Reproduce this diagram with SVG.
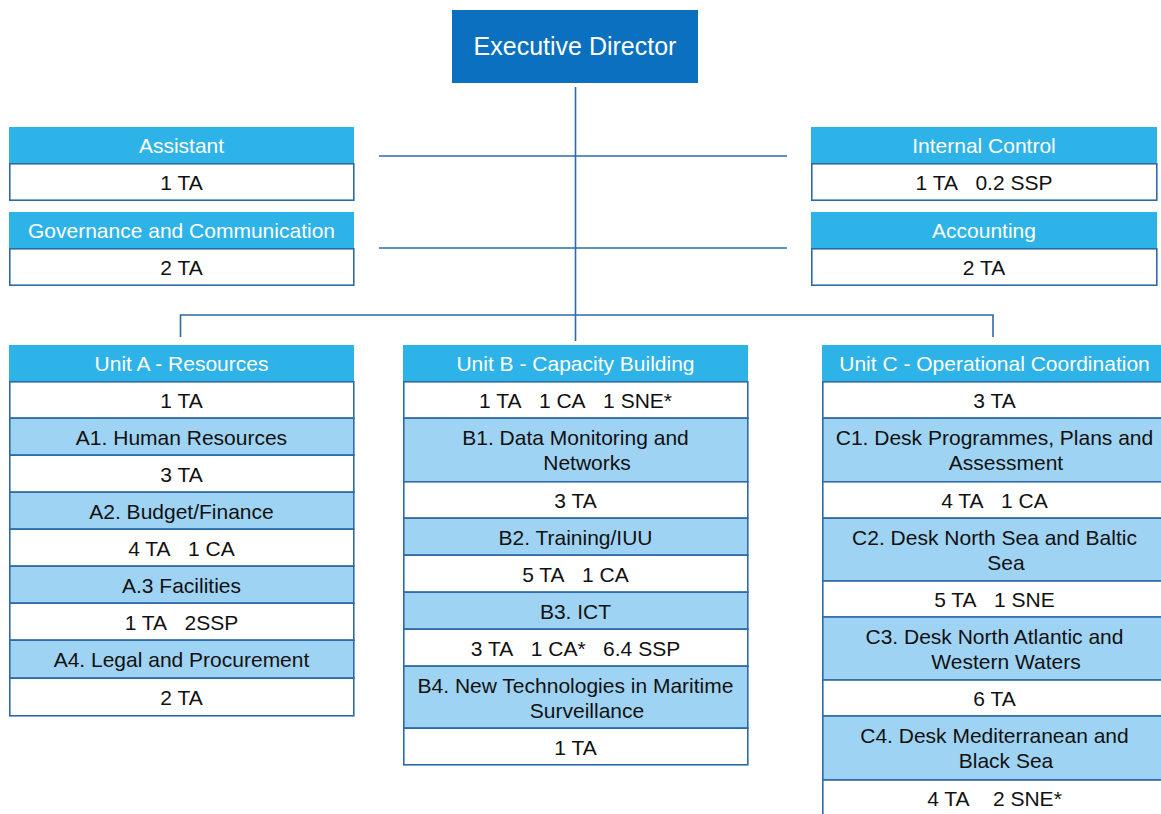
<svg xmlns="http://www.w3.org/2000/svg" width="1161" height="814" viewBox="0 0 1161 814">
<style>
text{font-family:"Liberation Sans",Arial,sans-serif;font-size:21px;text-anchor:middle;fill:#111}
.hd{fill:#2eb3e8}
.ht{fill:#fff}
.w{fill:#fff;stroke:#2e6ba6;stroke-width:1.6}
.s{fill:#9fd3f3;stroke:#2e6ba6;stroke-width:1.6}
.ln{fill:none;stroke:#2e6ba6;stroke-width:1.6}
</style>
<rect width="1161" height="814" fill="#fff"/>
<g id="connectors">
<path class="ln" d="M575.5 87V341"/>
<path class="ln" d="M379 156H787"/>
<path class="ln" d="M379 248H787"/>
<path class="ln" d="M180.5 337V315H993V337"/>
</g>
<g id="executive-director">
<rect x="452" y="10" width="246" height="73" fill="#0a70bf"/>
<text x="575" y="55" class="ht" style="font-size:25px">Executive Director</text>
</g>
<g id="assistant">
<rect class="hd" x="9" y="127" width="345" height="36"/>
<text class="ht" x="181.5" y="153">Assistant</text>
<rect class="w" x="9.8" y="163.8" width="344" height="36.4"/>
<text x="181.5" y="190">1 TA</text>
</g>
<g id="governance">
<rect class="hd" x="9" y="212" width="345" height="36"/>
<text class="ht" x="181.5" y="238">Governance and Communication</text>
<rect class="w" x="9.8" y="248.8" width="344" height="36.4"/>
<text x="181.5" y="275">2 TA</text>
</g>
<g id="internal-control">
<rect class="hd" x="811" y="127" width="346" height="36"/>
<text class="ht" x="984" y="153">Internal Control</text>
<rect class="w" x="811.8" y="163.8" width="345" height="36.4"/>
<text x="984" y="190">1 TA&#160;&#160; 0.2 SSP</text>
</g>
<g id="accounting">
<rect class="hd" x="811" y="212" width="346" height="36"/>
<text class="ht" x="984" y="238">Accounting</text>
<rect class="w" x="811.8" y="248.8" width="345" height="36.4"/>
<text x="984" y="275">2 TA</text>
</g>
<g id="unit-a">
<rect class="hd" x="9" y="345" width="345" height="37"/>
<text class="ht" x="181.5" y="371">Unit A - Resources</text>
<rect class="w" x="9.8" y="381.8" width="344" height="36.4"/>
<text x="181.5" y="408">1 TA</text>
<rect class="s" x="9.8" y="418.2" width="344" height="37"/>
<text x="181.5" y="445">A1. Human Resources</text>
<rect class="w" x="9.8" y="455.2" width="344" height="37"/>
<text x="181.5" y="482">3 TA</text>
<rect class="s" x="9.8" y="492.2" width="344" height="37"/>
<text x="181.5" y="519">A2. Budget/Finance</text>
<rect class="w" x="9.8" y="529.2" width="344" height="37"/>
<text x="181.5" y="556">4 TA&#160;&#160; 1 CA</text>
<rect class="s" x="9.8" y="566.2" width="344" height="37"/>
<text x="181.5" y="593">A.3 Facilities</text>
<rect class="w" x="9.8" y="603.2" width="344" height="37"/>
<text x="181.5" y="630">1 TA&#160;&#160; 2SSP</text>
<rect class="s" x="9.8" y="640.2" width="344" height="38"/>
<text x="181.5" y="667">A4. Legal and Procurement</text>
<rect class="w" x="9.8" y="678.2" width="344" height="37.6"/>
<text x="181.5" y="705">2 TA</text>
</g>
<g id="unit-b">
<rect class="hd" x="403" y="345" width="345" height="37"/>
<text class="ht" x="575.5" y="371">Unit B - Capacity Building</text>
<rect class="w" x="403.8" y="381.8" width="344" height="36.4"/>
<text x="575.5" y="408">1 TA&#160;&#160; 1 CA&#160;&#160; 1 SNE*</text>
<rect class="s" x="403.8" y="418.2" width="344" height="63.6"/>
<text x="575.5" y="445">B1. Data Monitoring and</text>
<text x="587" y="470">Networks</text>
<rect class="w" x="403.8" y="481.8" width="344" height="36.4"/>
<text x="575.5" y="508">3 TA</text>
<rect class="s" x="403.8" y="518.2" width="344" height="37"/>
<text x="575.5" y="545">B2. Training/IUU</text>
<rect class="w" x="403.8" y="555.2" width="344" height="37"/>
<text x="575.5" y="582">5 TA&#160;&#160; 1 CA</text>
<rect class="s" x="403.8" y="592.2" width="344" height="37"/>
<text x="575.5" y="619">B3. ICT</text>
<rect class="w" x="403.8" y="629.2" width="344" height="37"/>
<text x="575.5" y="656">3 TA&#160;&#160; 1 CA*&#160;&#160; 6.4 SSP</text>
<rect class="s" x="403.8" y="666.2" width="344" height="62"/>
<text x="575.5" y="693">B4. New Technologies in Maritime</text>
<text x="587" y="718">Surveillance</text>
<rect class="w" x="403.8" y="728.2" width="344" height="36.6"/>
<text x="575.5" y="755">1 TA</text>
</g>
<g id="unit-c">
<rect class="hd" x="822" y="345" width="345" height="37"/>
<text class="ht" x="994.5" y="371">Unit C - Operational Coordination</text>
<rect class="w" x="822.8" y="381.8" width="344" height="36.4"/>
<text x="994.5" y="408">3 TA</text>
<rect class="s" x="822.8" y="418.2" width="344" height="63.6"/>
<text x="994.5" y="445">C1. Desk Programmes, Plans and</text>
<text x="1006" y="470">Assessment</text>
<rect class="w" x="822.8" y="481.8" width="344" height="36.4"/>
<text x="994.5" y="508">4 TA&#160;&#160; 1 CA</text>
<rect class="s" x="822.8" y="518.2" width="344" height="62.8"/>
<text x="994.5" y="545">C2. Desk North Sea and Baltic</text>
<text x="1006" y="570">Sea</text>
<rect class="w" x="822.8" y="581" width="344" height="36"/>
<text x="994.5" y="607">5 TA&#160;&#160; 1 SNE</text>
<rect class="s" x="822.8" y="617" width="344" height="63"/>
<text x="994.5" y="644">C3. Desk North Atlantic and</text>
<text x="1006" y="669">Western Waters</text>
<rect class="w" x="822.8" y="680" width="344" height="36"/>
<text x="994.5" y="706">6 TA</text>
<rect class="s" x="822.8" y="716" width="344" height="64"/>
<text x="994.5" y="743">C4. Desk Mediterranean and</text>
<text x="1006" y="768">Black Sea</text>
<rect class="w" x="822.8" y="780" width="344" height="40"/>
<text x="994.5" y="806">4 TA&#160;&#160;&#160; 2 SNE*</text>
</g>
</svg>
